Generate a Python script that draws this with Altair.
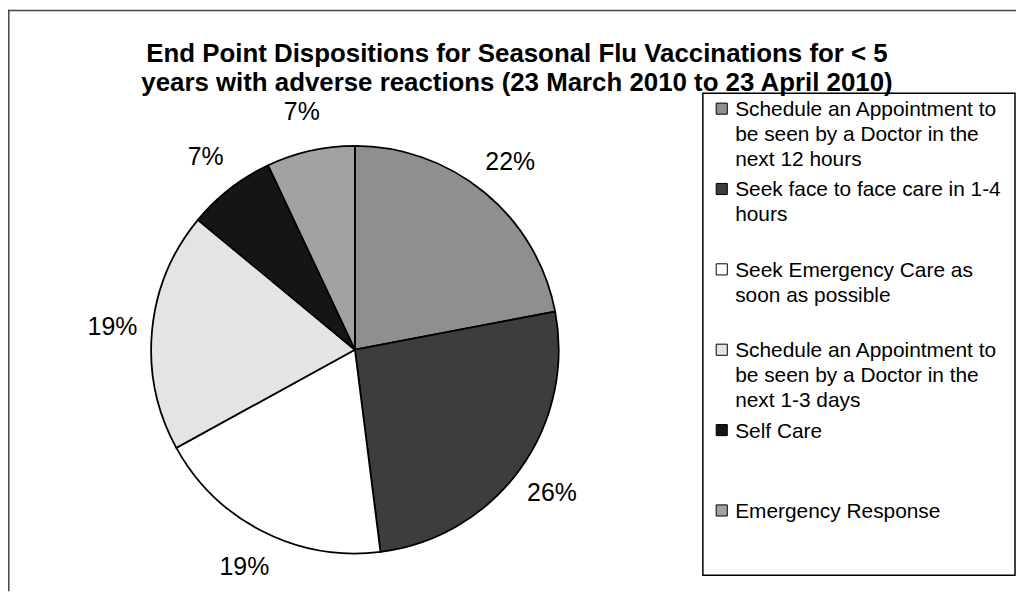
import altair as alt
import pandas as pd

categories = [
    "Schedule an Appointment to be seen by a Doctor in the next 12 hours",
    "Seek face to face care in 1-4 hours",
    "Seek Emergency Care as soon as possible",
    "Schedule an Appointment to be seen by a Doctor in the next 1-3 days",
    "Self Care",
    "Emergency Response",
]
legend_labels = [
    "Schedule an Appointment to\nbe seen by a Doctor in the\nnext 12 hours",
    "Seek face to face care in 1-4\nhours",
    "Seek Emergency Care as\nsoon as possible",
    "Schedule an Appointment to\nbe seen by a Doctor in the\nnext 1-3 days",
    "Self Care",
    "Emergency Response",
]
percentages = [22, 26, 19, 19, 7, 7]
fill_colors = ["#8f8f8f", "#3d3d3d", "#ffffff", "#e4e4e4", "#151515", "#a2a2a2"]
title_text = ("End Point Dispositions for Seasonal Flu Vaccinations for < 5\n"
              "years with adverse reactions (23 March 2010 to 23 April 2010)")

df = pd.DataFrame({
    "category": categories,
    "legend": legend_labels,
    "pct": percentages,
    "order": list(range(len(categories))),
})
df["label"] = df["pct"].astype(str) + "%"

one = pd.DataFrame({"a": [0]})
FONT = "Liberation Sans"
CX, CY = 349, 342

fill_scale = alt.Scale(domain=categories, range=fill_colors)
legend_y = alt.Scale(domain=categories, range=[99.5, 503.7], padding=0)

frame_top = alt.Chart(one).mark_rule(color="#444", strokeWidth=1.5).encode(
    x=alt.value(0), x2=alt.value(1014), y=alt.value(0.8))
frame_left = alt.Chart(one).mark_rule(color="#444", strokeWidth=1.5).encode(
    x=alt.value(0.8), y=alt.value(0), y2=alt.value(585))

pie = alt.Chart(df).mark_arc(x=CX, y=CY, outerRadius=205, stroke="black",
                             strokeWidth=1.8).encode(
    theta=alt.Theta("pct:Q", stack=True),
    order=alt.Order("order:Q"),
    fill=alt.Fill("category:N", scale=fill_scale, legend=None),
)

labels = alt.Chart(df).mark_text(x=CX, y=CY, radius=245, fontSize=25, font=FONT,
                                 color="black", baseline="middle").encode(
    theta=alt.Theta("pct:Q", stack=True),
    order=alt.Order("order:Q"),
    text="label:N",
)

legend_box = alt.Chart(one).mark_rect(fill="white", stroke="black", strokeWidth=1.5).encode(
    x=alt.value(699), x2=alt.value(1013), y=alt.value(84), y2=alt.value(569))

legend_sq = alt.Chart(df).mark_square(size=125, stroke="black", strokeWidth=1,
                                      opacity=1, filled=True).encode(
    x=alt.value(718),
    y=alt.Y("category:N", scale=legend_y, axis=None),
    fill=alt.Fill("category:N", scale=fill_scale, legend=None),
)

legend_txt = alt.Chart(df).mark_text(align="left", baseline="alphabetic", dy=7.5,
                                     fontSize=21, lineHeight=25, lineBreak="\n",
                                     font=FONT, color="black").encode(
    x=alt.value(731.5),
    y=alt.Y("category:N", scale=legend_y, axis=None),
    text="legend:N",
)

title = alt.Chart(pd.DataFrame({"t": [title_text]})).mark_text(
    align="center", baseline="alphabetic", fontSize=26, fontWeight="bold",
    lineHeight=29, lineBreak="\n", font=FONT, color="black").encode(
    x=alt.value(512), y=alt.value(53), text="t:N")

chart = alt.layer(frame_top, frame_left, pie, labels, legend_box, legend_sq,
                  legend_txt, title).properties(
    width=1014, height=585, autosize=alt.AutoSizeParams(type="none"), padding=0,
    background="white",
).configure_view(stroke=None)

chart.save("out.html", embed_options={"renderer": "svg", "actions": False})
